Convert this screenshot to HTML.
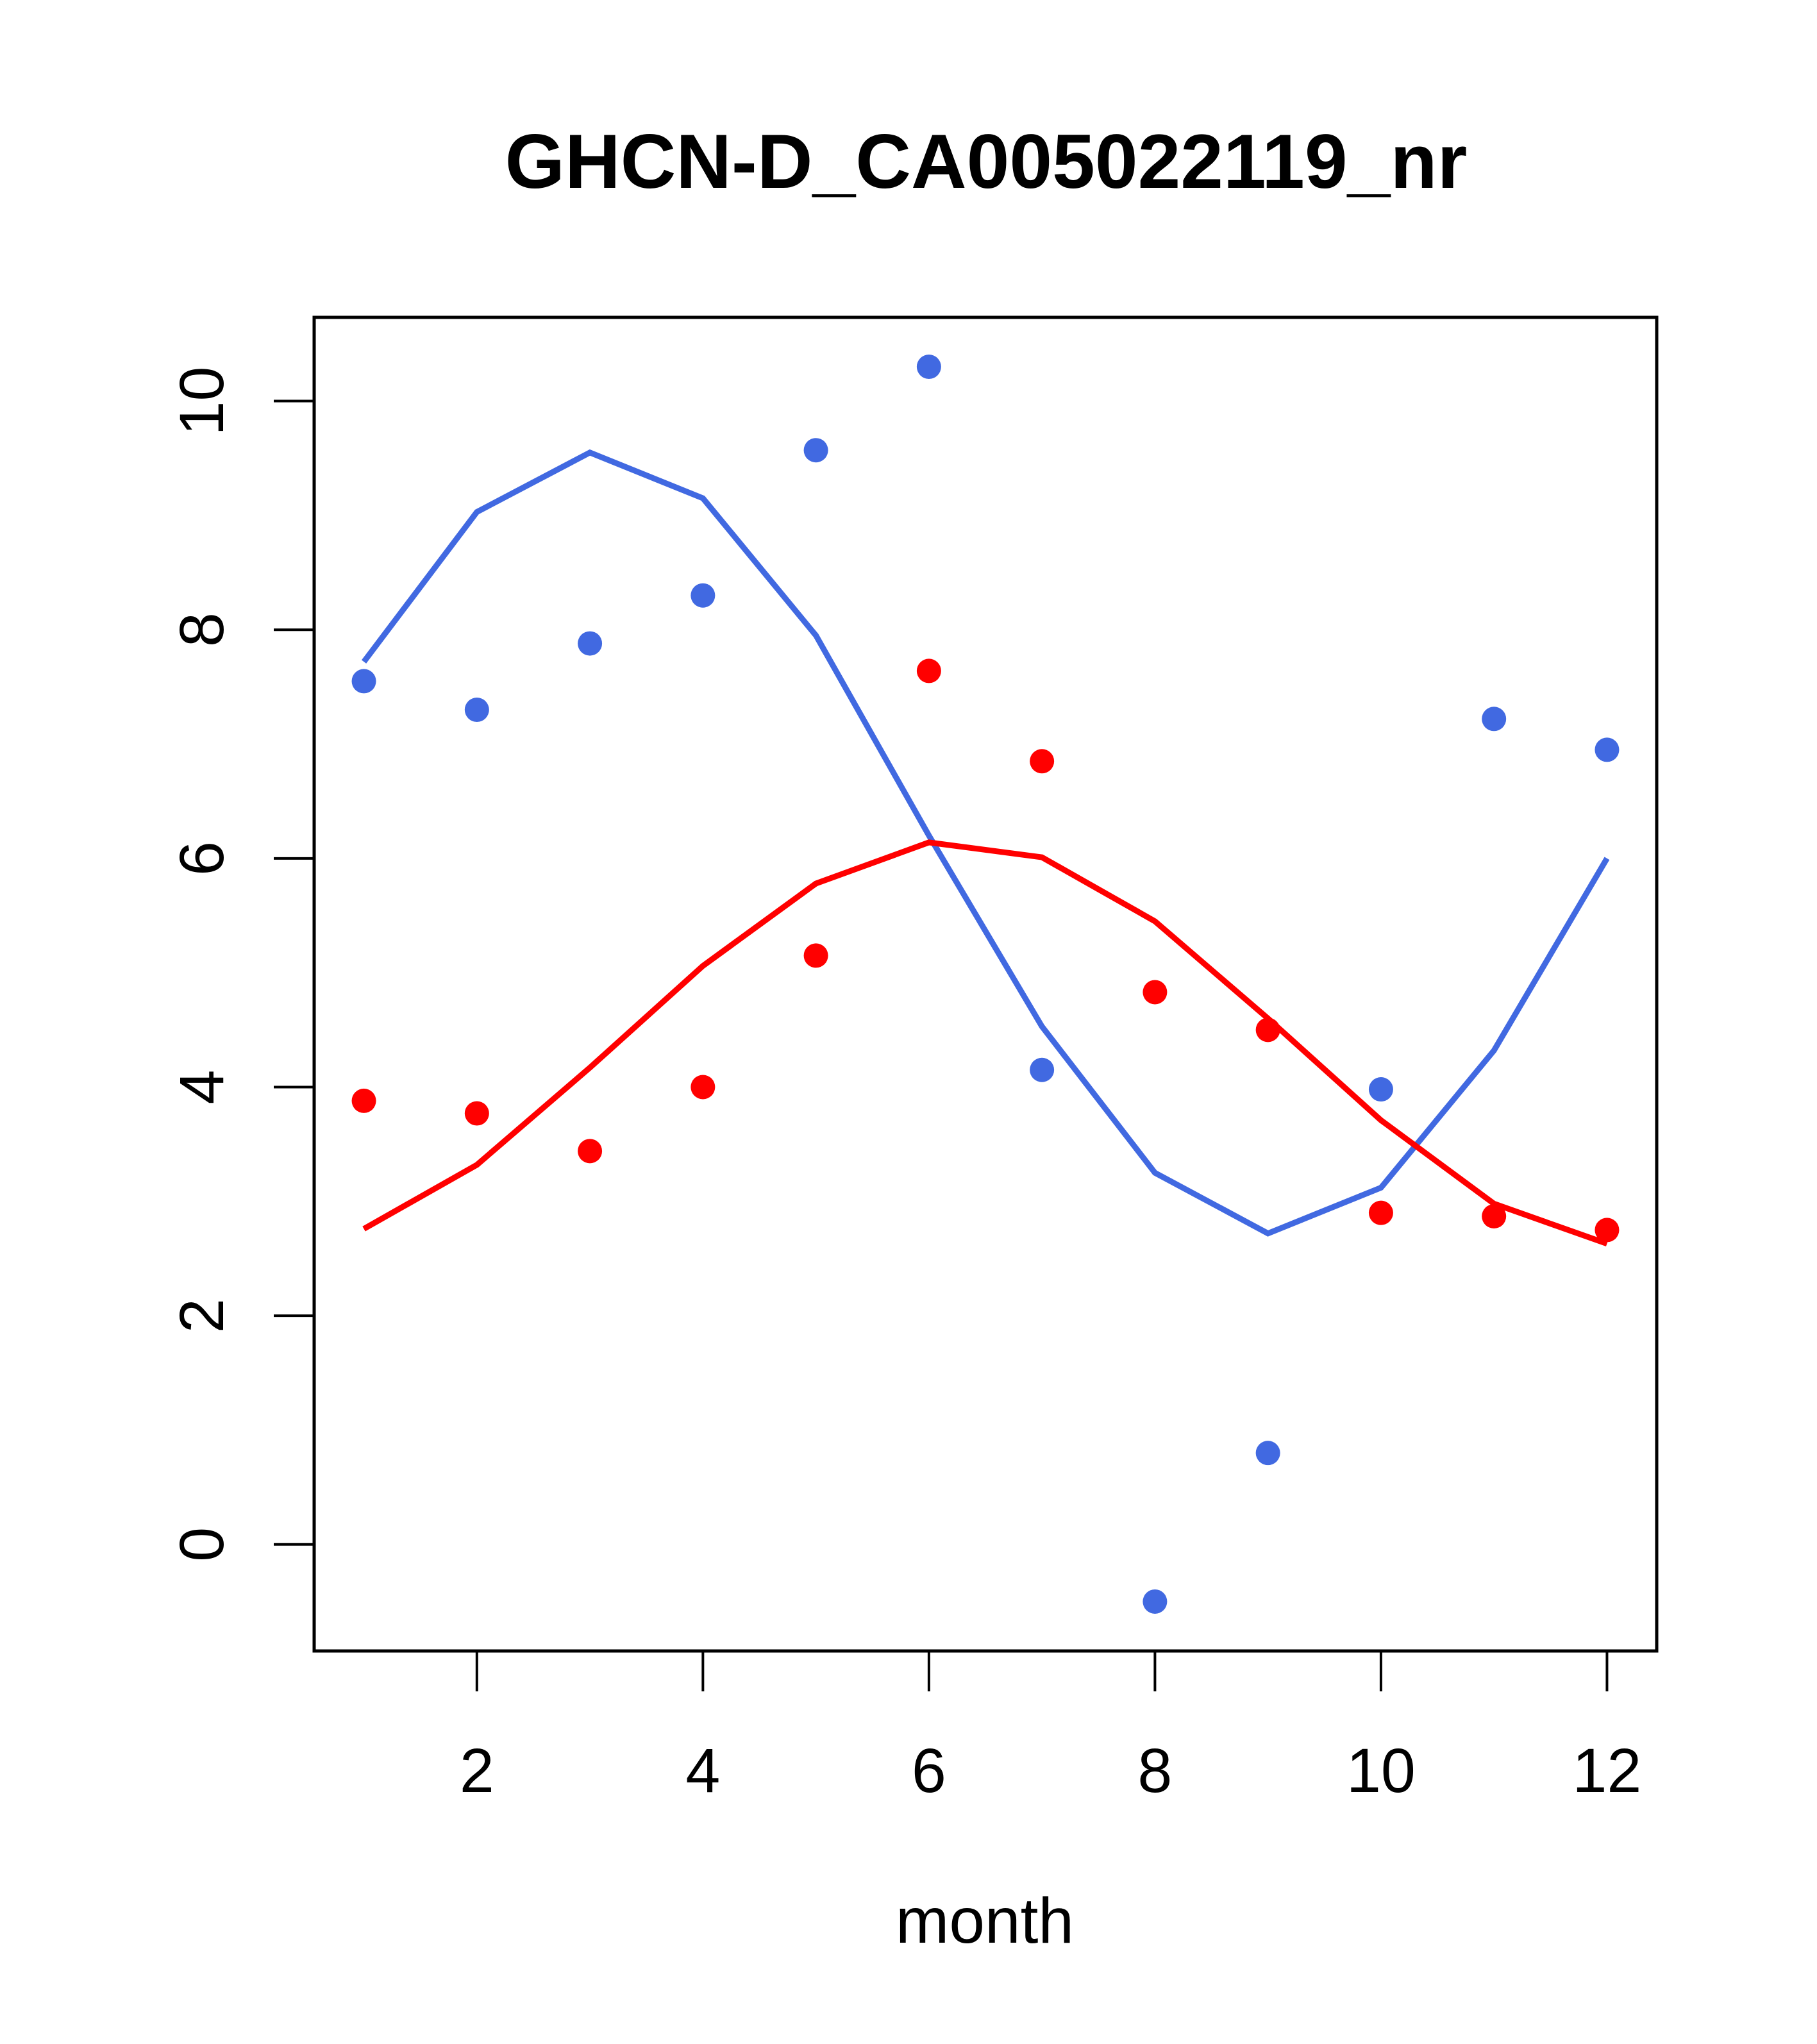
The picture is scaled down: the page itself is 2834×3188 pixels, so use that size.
<!DOCTYPE html>
<html><head><meta charset="utf-8"><style>body{margin:0;background:#fff}svg{display:block}text{font-family:"Liberation Sans",sans-serif}</style></head>
<body>
<svg id="chart" width="2834" height="3188" viewBox="0 0 2834 3188">
<text x="1538" y="293" text-anchor="middle" font-size="120" font-weight="bold">GHCN-D_CA005022119_nr</text>
<rect x="490" y="495" width="2094" height="2080" fill="none" stroke="#000" stroke-width="5"/>
<text x="1536" y="3030" text-anchor="middle" font-size="100">month</text>
<g id="axes"></g><g id="series"></g>
</svg>
<script>
const months=[1,2,3,4,5,6,7,8,9,10,11,12];
const bluePts=[7.55,7.3,7.88,8.3,9.57,10.3,4.15,-0.5,0.8,3.98,7.22,6.95];
const redPts=[3.88,3.77,3.44,4.0,5.15,7.64,6.85,4.83,4.5,2.9,2.87,2.75];
const blueLine=[7.72,9.03,9.55,9.15,7.95,6.2,4.53,3.25,2.72,3.12,4.32,6.0];
const redLine=[2.76,3.32,4.17,5.06,5.78,6.14,6.01,5.45,4.6,3.71,2.98,2.63];
const xTicks=[2,4,6,8,10,12];
const yTicks=[0,2,4,6,8,10];
const NS="http://www.w3.org/2000/svg";
const X=v=>490+(v-0.56)/(12.44-0.56)*2094;
const Y=v=>2575-(v+0.932)/(10.732+0.932)*2080;
const ax=document.getElementById('axes'),se=document.getElementById('series');
function mk(t,a,p){const e=document.createElementNS(NS,t);for(const k in a)e.setAttribute(k,a[k]);p.appendChild(e);return e;}
xTicks.forEach(v=>{
 const l=mk('line',{x1:X(v),x2:X(v),y1:2575,y2:2638,stroke:'#000','stroke-width':4},ax);
 
 
 const t=mk('text',{x:X(v),y:2795,'text-anchor':'middle','font-size':97},ax);t.textContent=v;
 
 
});
yTicks.forEach(v=>{
 const l=mk('line',{x1:427,x2:490,y1:Y(v),y2:Y(v),stroke:'#000','stroke-width':4},ax);
 
 
 const t=mk('text',{x:348,y:Y(v),'text-anchor':'middle','font-size':97,transform:`rotate(-90 348 ${Y(v)})`},ax);t.textContent=v;
 
 
});
function line(arr,c,n){const p=mk('polyline',{points:arr.map((v,i)=>X(months[i])+','+Y(v)).join(' '),fill:'none',stroke:c,'stroke-width':9},se);
 
 }
function pts(arr,c,n){arr.forEach((v,i)=>{const e=mk('circle',{cx:X(months[i]),cy:Y(v),r:19,fill:c},se);
 
 });}
line(blueLine,'#4169E1','blue-line');line(redLine,'#FF0000','red-line');
pts(bluePts,'#4169E1','blue-point');pts(redPts,'#FF0000','red-point');
</script>
</body></html>
